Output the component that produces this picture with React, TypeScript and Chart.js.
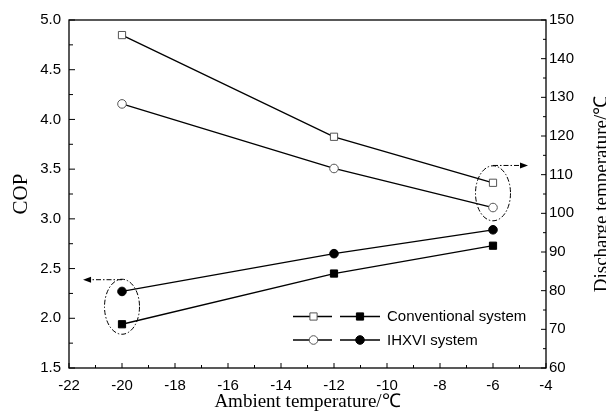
import React, { useEffect, useRef } from 'react';
import { Chart, registerables } from 'chart.js';

Chart.register(...registerables);

// ---- data ----
const ambient = [-20, -12, -6];
const copConventional = [1.94, 2.45, 2.73];
const copIHXVI = [2.27, 2.65, 2.89];
const dischargeConventional = [146.1, 119.8, 107.9];
const dischargeIHXVI = [128.3, 111.6, 101.5];

const xAxisRange = [-22, -4, 2];
const copAxisRange = [1.5, 5.0, 0.5];
const tempAxisRange = [60, 150, 10];

const xTitle = 'Ambient temperature/℃';
const leftTitle = 'COP';
const rightTitle = 'Discharge temperature/℃';
const legendLabels = ['Conventional system', 'IHXVI system'];

// annotation anchors in data units (x, COP)
const leftGroupCenter = [-20, 2.116];
const leftArrowEnd = [-21.47, 2.388];
const rightGroupCenter = [-6, 3.257];
const rightArrowEnd = [-4.68, 3.537];

const SANS = '"Liberation Sans", Arial, sans-serif';
const SERIF = '"Liberation Serif", "Times New Roman", serif';

const decorPlugin = {
  id: 'decor',
  afterDraw(chart: any) {
    const { ctx, chartArea: a, scales } = chart;
    const xs = scales.x, ys = scales.y, y2 = scales.y2;
    ctx.save();
    ctx.strokeStyle = '#000';
    ctx.fillStyle = '#000';
    ctx.lineWidth = 1.3;
    ctx.setLineDash([]);
    // frame
    ctx.strokeRect(a.left, a.top, a.right - a.left, a.bottom - a.top);

    const line = (x1: number, y1: number, x2: number, y2p: number) => {
      ctx.beginPath();
      ctx.moveTo(x1, y1);
      ctx.lineTo(x2, y2p);
      ctx.stroke();
    };
    const MAJ = 5, MIN = 3;
    ctx.lineWidth = 1;
    // x ticks (inward, up)
    const xt = xs.ticks.map((t: any) => t.value);
    xt.forEach((v: number, i: number) => {
      const px = xs.getPixelForValue(v);
      line(px, a.bottom, px, a.bottom - MAJ);
      if (i < xt.length - 1) {
        const m = xs.getPixelForValue((v + xt[i + 1]) / 2);
        line(m, a.bottom, m, a.bottom - MIN);
      }
    });
    const yt = ys.ticks.map((t: any) => t.value);
    yt.forEach((v: number, i: number) => {
      const py = ys.getPixelForValue(v);
      line(a.left, py, a.left + MAJ + 1, py);
      if (i < yt.length - 1) {
        const m = ys.getPixelForValue((v + yt[i + 1]) / 2);
        line(a.left, m, a.left + MIN + 1, m);
      }
    });
    const y2t = y2.ticks.map((t: any) => t.value);
    y2t.forEach((v: number, i: number) => {
      const py = y2.getPixelForValue(v);
      line(a.right, py, a.right - MAJ, py);
      if (i < y2t.length - 1) {
        const m = y2.getPixelForValue((v + y2t[i + 1]) / 2);
        line(a.right, m, a.right - MIN, m);
      }
    });

    // right title (reads bottom to top)
    ctx.save();
    ctx.translate(602, (a.top + a.bottom) / 2);
    ctx.rotate(-Math.PI / 2);
    ctx.font = `19px ${SERIF}`;
    ctx.textAlign = 'center';
    ctx.textBaseline = 'middle';
    ctx.fillStyle = '#000';
    ctx.fillText(rightTitle, 0, 0);
    ctx.restore();

    // legend
    const drawMarker = (style: string, cx: number, cy: number, filled: boolean) => {
      ctx.beginPath();
      if (style === 'rect') {
        const s = 3.6;
        ctx.rect(cx - s, cy - s, 2 * s, 2 * s);
      } else {
        ctx.arc(cx, cy, 4.3, 0, Math.PI * 2);
      }
      ctx.fillStyle = filled ? '#000' : '#fff';
      ctx.fill();
      ctx.lineWidth = 1;
      ctx.strokeStyle = filled ? '#000' : '#555';
      ctx.stroke();
    };
    const rows = [
      { y: 316.5, style: 'rect', label: legendLabels[0] },
      { y: 340, style: 'circle', label: legendLabels[1] },
    ];
    rows.forEach((r) => {
      ctx.strokeStyle = '#000';
      ctx.lineWidth = 1.3;
      line(293, r.y, 332, r.y);
      line(340, r.y, 380, r.y);
      drawMarker(r.style, 313.5, r.y, false);
      drawMarker(r.style, 360, r.y, true);
      ctx.fillStyle = '#000';
      ctx.font = `15px ${SANS}`;
      ctx.textAlign = 'left';
      ctx.textBaseline = 'middle';
      ctx.fillText(r.label, 387, r.y + 0.5);
    });

    // annotations: dash-dot ellipses with arrows
    const group = (c: number[], end: number[]) => {
      const cx = xs.getPixelForValue(c[0]);
      const cy = ys.getPixelForValue(c[1]);
      const ex = xs.getPixelForValue(end[0]);
      const ey = ys.getPixelForValue(end[1]);
      ctx.strokeStyle = '#000';
      ctx.lineWidth = 1;
      ctx.setLineDash([5, 2, 1.5, 2]);
      ctx.beginPath();
      ctx.ellipse(cx, cy, 17.5, 27.5, 0, 0, Math.PI * 2);
      ctx.stroke();
      const dir = Math.sign(ex - cx);
      const head = 8;
      line(cx, ey, ex - dir * head, ey);
      ctx.setLineDash([]);
      ctx.beginPath();
      ctx.moveTo(ex, ey);
      ctx.lineTo(ex - dir * head, ey - 3);
      ctx.lineTo(ex - dir * head, ey + 3);
      ctx.closePath();
      ctx.fillStyle = '#000';
      ctx.fill();
    };
    group(leftGroupCenter, leftArrowEnd);
    group(rightGroupCenter, rightArrowEnd);

    ctx.restore();
  },
};

function App() {
  const ref = useRef<HTMLCanvasElement | null>(null);
  useEffect(() => {
    if (!ref.current) return;
    const pts = (ys: number[]) => ambient.map((x, i) => ({ x, y: ys[i] }));
    const base = {
      borderColor: '#000',
      borderWidth: 1.3,
      showLine: true,
      tension: 0,
    };
    const chart = new Chart(ref.current, {
      type: 'scatter',
      data: {
        datasets: [
          {
            ...base,
            data: pts(dischargeConventional),
            yAxisID: 'y2',
            pointStyle: 'rect',
            pointRadius: 5.1,
            pointBackgroundColor: '#fff',
            pointBorderColor: '#555',
            pointBorderWidth: 1,
          },
          {
            ...base,
            data: pts(dischargeIHXVI),
            yAxisID: 'y2',
            pointStyle: 'circle',
            pointRadius: 4.3,
            pointBackgroundColor: '#fff',
            pointBorderColor: '#555',
            pointBorderWidth: 1,
          },
          {
            ...base,
            data: pts(copIHXVI),
            yAxisID: 'y',
            pointStyle: 'circle',
            pointRadius: 4.3,
            pointBackgroundColor: '#000',
            pointBorderColor: '#000',
            pointBorderWidth: 1,
          },
          {
            ...base,
            data: pts(copConventional),
            yAxisID: 'y',
            pointStyle: 'rect',
            pointRadius: 5.1,
            pointBackgroundColor: '#000',
            pointBorderColor: '#000',
            pointBorderWidth: 1,
          },
        ],
      },
      options: {
        responsive: false,
        animation: false,
        events: [],
        layout: { padding: { top: 20, left: 0, right: 0, bottom: 0 } },
        plugins: { legend: { display: false }, tooltip: { enabled: false } },
        scales: {
          x: {
            type: 'linear',
            position: 'bottom',
            min: xAxisRange[0],
            max: xAxisRange[1],
            afterFit: (s: any) => { s.height = 49; },
            grid: { display: false, drawTicks: false },
            border: { display: false },
            ticks: {
              stepSize: xAxisRange[2],
              autoSkip: false,
              maxRotation: 0,
              padding: 9,
              color: '#000',
              font: { family: SANS, size: 15 },
            },
            title: {
              display: true,
              text: xTitle,
              color: '#000',
              font: { family: SERIF, size: 19 },
              padding: { top: 0, bottom: 4 },
            },
          },
          y: {
            type: 'linear',
            position: 'left',
            min: copAxisRange[0],
            max: copAxisRange[1],
            afterFit: (s: any) => { s.width = 69; },
            grid: { display: false, drawTicks: false },
            border: { display: false },
            ticks: {
              stepSize: copAxisRange[2],
              autoSkip: false,
              padding: 8,
              color: '#000',
              font: { family: SANS, size: 15 },
              callback: (v: any) => Number(v).toFixed(1),
            },
            title: {
              display: true,
              text: leftTitle,
              color: '#000',
              font: { family: SERIF, size: 21 },
              padding: { top: 9, bottom: 0 },
            },
          },
          y2: {
            type: 'linear',
            position: 'right',
            min: tempAxisRange[0],
            max: tempAxisRange[1],
            afterFit: (s: any) => { s.width = 60; },
            grid: { display: false, drawTicks: false },
            border: { display: false },
            ticks: {
              stepSize: tempAxisRange[2],
              autoSkip: false,
              padding: 3,
              color: '#000',
              font: { family: SANS, size: 15 },
            },
          },
        },
      },
      plugins: [decorPlugin],
    } as any);
    return () => chart.destroy();
  }, []);
  return (
    <div style={{ position: 'absolute', left: 0, top: 0, width: 606, height: 417, background: '#fff' }}>
      <canvas ref={ref} width={606} height={417} style={{ display: 'block' }} />
    </div>
  );
}

export default App;
